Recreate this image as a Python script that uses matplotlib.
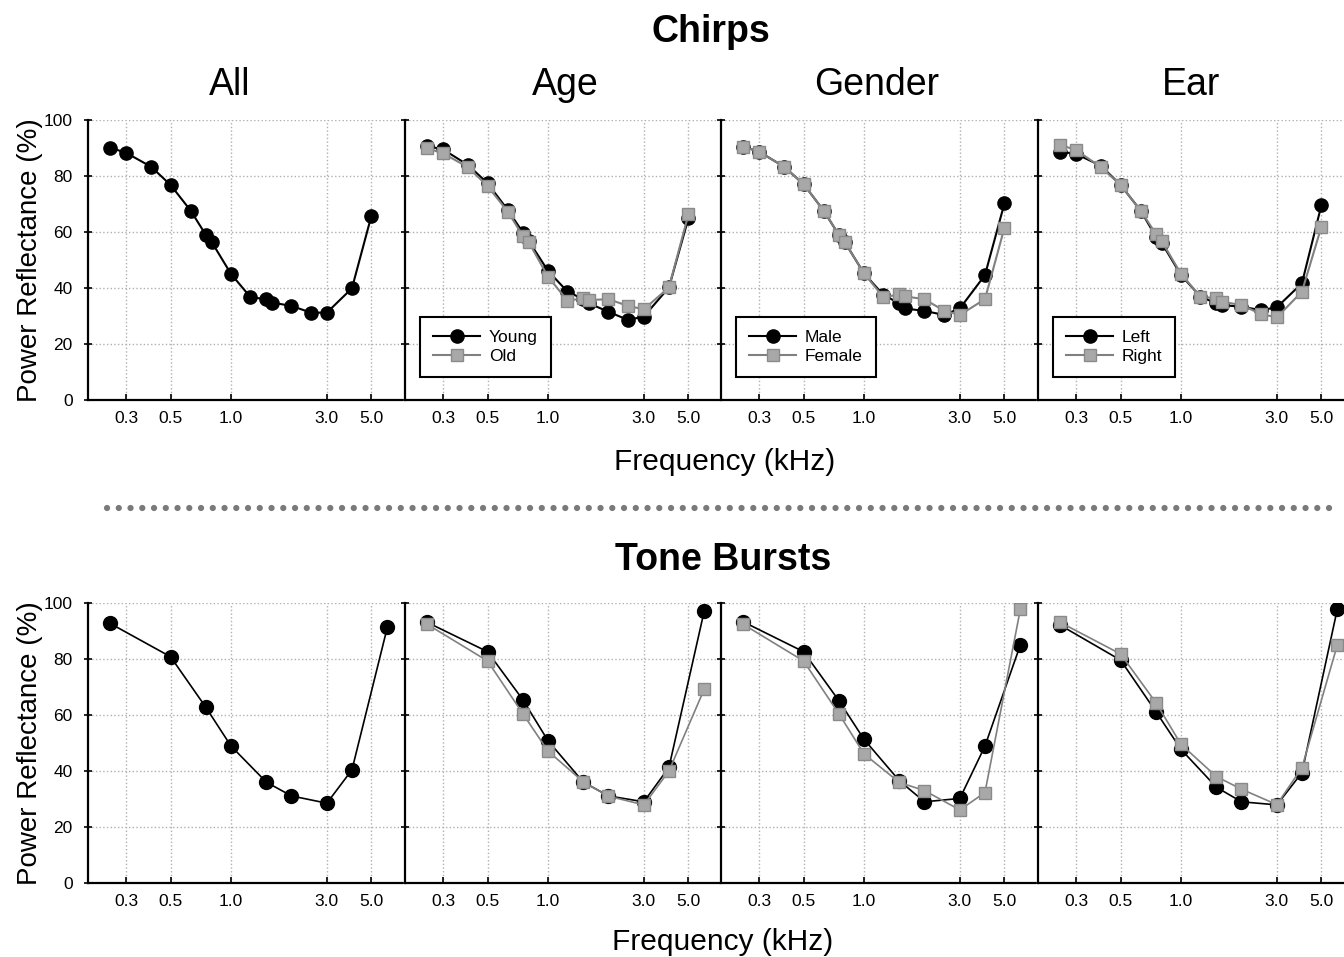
import matplotlib
matplotlib.use("Agg")
import matplotlib.pyplot as plt
from matplotlib.lines import Line2D
from matplotlib.ticker import FixedLocator, FixedFormatter, NullLocator

plt.rcParams['font.family'] = ['Liberation Sans', 'DejaVu Sans']

# ---- data ----
chirp_f = [0.25, 0.3, 0.4, 0.5, 0.63, 0.75, 0.8, 1.0, 1.25, 1.5, 1.6, 2.0, 2.5, 3.0, 4.0, 5.0]
chirp_all = [90.1, 88.3, 83.3, 76.8, 67.6, 58.9, 56.5, 45.0, 36.7, 36.0, 34.8, 33.6, 31.2, 31.2, 39.9, 65.8]
chirp_young = [90.7, 89.5, 83.9, 77.4, 67.9, 59.8, 56.9, 46.1, 38.7, 36.0, 34.5, 31.5, 28.6, 29.8, 40.2, 64.9]
chirp_old = [89.9, 88.1, 83.1, 76.4, 67.3, 58.6, 56.5, 44.0, 35.5, 36.3, 35.7, 36.0, 33.6, 32.4, 40.2, 66.3]
chirp_male = [90.5, 88.7, 83.3, 77.1, 67.6, 58.9, 56.5, 45.2, 37.5, 34.5, 32.7, 31.8, 30.4, 32.7, 44.6, 70.2]
chirp_female = [90.5, 88.7, 83.3, 77.1, 67.6, 58.9, 56.5, 45.2, 36.7, 37.7, 37.0, 36.0, 31.9, 30.4, 36.0, 61.5]
chirp_left = [88.7, 87.9, 83.6, 76.8, 67.6, 58.3, 56.2, 44.6, 36.9, 34.5, 33.9, 33.3, 32.1, 33.1, 41.7, 69.6]
chirp_right = [91.1, 89.3, 83.1, 76.8, 67.6, 59.3, 56.8, 45.0, 36.9, 36.3, 35.1, 33.9, 30.7, 29.5, 38.7, 61.9]

tone_f = [0.25, 0.5, 0.75, 1.0, 1.5, 2.0, 3.0, 4.0, 6.0]
tone_all = [92.7, 80.8, 62.7, 48.9, 36.0, 31.1, 28.5, 40.4, 91.3]
tone_young = [93.1, 82.6, 65.4, 50.8, 36.0, 31.1, 29.0, 41.3, 97.3]
tone_old = [92.4, 79.3, 60.4, 47.1, 36.1, 31.0, 27.9, 40.0, 69.3]
tone_male = [93.3, 82.6, 65.1, 51.3, 36.5, 29.0, 30.2, 48.9, 85.0]
tone_female = [92.4, 79.3, 60.4, 46.1, 35.9, 33.0, 26.1, 32.3, 97.7]
tone_left = [92.1, 79.6, 61.2, 47.7, 34.2, 29.0, 27.9, 39.4, 97.8]
tone_right = [93.1, 81.8, 64.4, 49.5, 38.0, 33.5, 28.0, 41.2, 85.0]

panel_titles = ["All", "Age", "Gender", "Ear"]
legend_labels = [None, ("Young", "Old"), ("Male", "Female"), ("Left", "Right")]
xticks = [0.3, 0.5, 1.0, 3.0, 5.0]
xticklabels = ["0.3", "0.5", "1.0", "3.0", "5.0"]
yticks = [0, 20, 40, 60, 80, 100]

chirp_series = [(chirp_all, None), (chirp_young, chirp_old),
                (chirp_male, chirp_female), (chirp_left, chirp_right)]
tone_series = [(tone_all, None), (tone_young, tone_old),
               (tone_male, tone_female), (tone_left, tone_right)]

W, H = 1344, 957
fig = plt.figure(figsize=(W / 100, H / 100), dpi=100)

lefts = [88, 405, 721, 1038]
pw, ph = 314, 280
GRAY_FACE = '#a8a8a8'
GRAY_EDGE = '#8a8a8a'
GRAY_LINE = '#808080'


def make_panel(left, top, freqs, series, idx, lw, ms_c, ms_s):
    ax = fig.add_axes([left / W, 1 - (top + ph) / H, pw / W, ph / H])
    ax.set_xscale('log')
    ax.set_xlim(0.194, 7.1)
    ax.set_ylim(0, 100)
    for s in ['top', 'right']:
        ax.spines[s].set_visible(False)
    for s in ['left', 'bottom']:
        ax.spines[s].set_linewidth(1.6)
    ax.xaxis.set_major_locator(FixedLocator(xticks))
    ax.xaxis.set_major_formatter(FixedFormatter(xticklabels))
    ax.xaxis.set_minor_locator(NullLocator())
    ax.set_yticks(yticks)
    ax.grid(True, linestyle=':', color='#b0b0b0', linewidth=1.0)
    ax.tick_params(axis='x', direction='in', length=4, width=1.2, labelsize=12.5, pad=8)
    ax.tick_params(axis='y', direction='inout', length=6, width=1.2, labelsize=12.5, pad=8)
    if idx != 0:
        ax.tick_params(axis='y', labelleft=False)
    a, b = series
    h1, = ax.plot(freqs, a, '-o', color='black', lw=lw, ms=ms_c, mfc='black', mec='black', zorder=3)
    if b is not None:
        h2, = ax.plot(freqs, b, '-s', color=GRAY_LINE, lw=lw, ms=ms_s, mfc=GRAY_FACE,
                      mec=GRAY_EDGE, mew=1.0, zorder=4)
        return ax, h1, h2
    return ax, h1, None


for i in range(4):
    ax, h1, h2 = make_panel(lefts[i], 120, chirp_f, chirp_series[i], i, 1.5, 9.5, 8.5)
    if h2 is not None:
        leg = ax.legend([h1, h2], legend_labels[i], loc='lower left',
                        bbox_to_anchor=(0.048, 0.082), borderaxespad=0, fontsize=12.5,
                        fancybox=False, framealpha=1, edgecolor='black',
                        handlelength=2.7, borderpad=0.75, labelspacing=0.2,
                        handletextpad=0.5)
        leg.get_frame().set_linewidth(1.5)
        leg.set_zorder(10)
    make_panel(lefts[i], 603, tone_f, tone_series[i], i, 1.2, 10, 8)

# titles
fig.text(711 / W, 1 - 32 / H, "Chirps", ha='center', va='center', fontsize=27, fontweight='bold')
fig.text(723 / W, 1 - 560 / H, "Tone Bursts", ha='center', va='center', fontsize=27, fontweight='bold')
for x, t in zip([230, 565, 877, 1191], panel_titles):
    fig.text(x / W, 1 - 85 / H, t, ha='center', va='center', fontsize=27)

# axis labels
fig.text(30 / W, 1 - 260 / H, "Power Reflectance (%)", rotation=90, ha='center', va='center', fontsize=20)
fig.text(30 / W, 1 - 743 / H, "Power Reflectance (%)", rotation=90, ha='center', va='center', fontsize=20)
fig.text(725 / W, 1 - 462 / H, "Frequency (kHz)", ha='center', va='center', fontsize=21.5)
fig.text(723 / W, 1 - 942 / H, "Frequency (kHz)", ha='center', va='center', fontsize=21.5)

# dotted separator
sep = Line2D([107 / W, 1330 / W], [1 - 508 / H, 1 - 508 / H], transform=fig.transFigure,
             color='#7a7a7a', linewidth=4.5, linestyle=(0, (0.01, 1.87)),
             dash_capstyle='round')
fig.add_artist(sep)

fig.savefig("out.png", dpi=100)
